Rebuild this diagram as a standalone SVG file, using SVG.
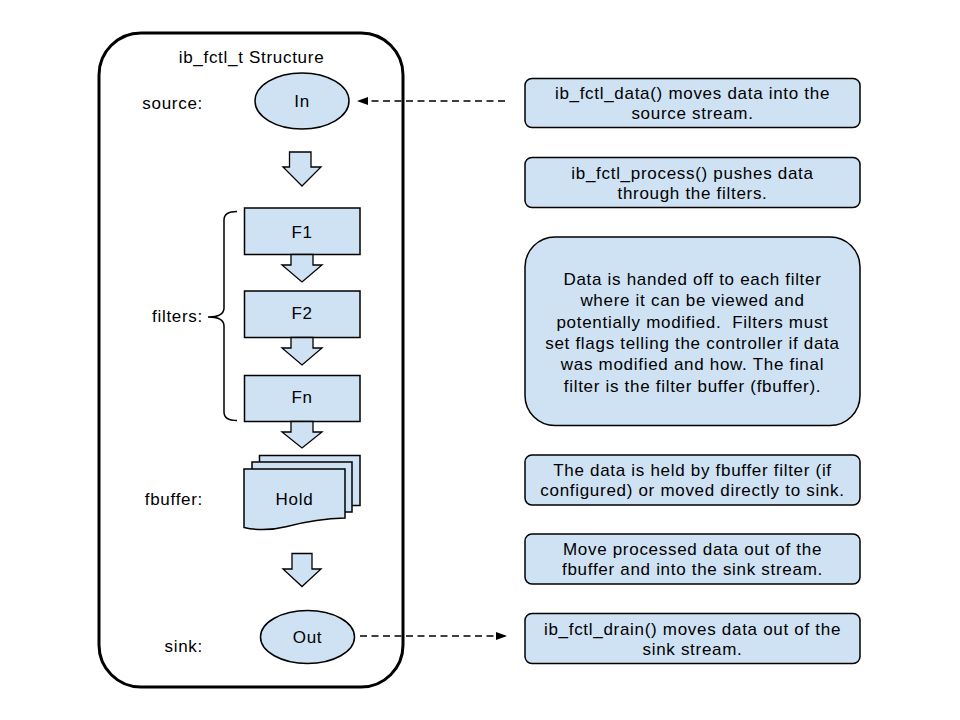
<svg xmlns="http://www.w3.org/2000/svg" width="960" height="720" viewBox="0 0 960 720">
<defs>
<style>
text{font-family:"Liberation Sans",Arial,sans-serif;font-size:17px;letter-spacing:0.7px;fill:#000;}
.c{text-anchor:middle;}
.r{text-anchor:end;}
.shape{fill:#cfe2f3;stroke:#000;stroke-width:1.5;}
.barrow{fill:#cfe2f3;stroke:#000;stroke-width:1.3;stroke-linejoin:miter;}
.dash{fill:none;stroke:#000;stroke-width:1.5;stroke-dasharray:7,4.5;}
</style>
<marker id="ah" markerWidth="12" markerHeight="10" refX="11" refY="4.5" orient="auto" markerUnits="userSpaceOnUse">
<path d="M0,0.5 L11,4.5 L0,8.5 Z" fill="#000"/>
</marker>
</defs>
<rect width="960" height="720" fill="#fff"/>

<g id="container">
<rect x="99" y="33" width="304" height="654" rx="42" ry="42" fill="none" stroke="#000" stroke-width="3"/>
<text class="c" x="251.5" y="63">ib_fctl_t Structure</text>
</g>

<g id="labels">
<text class="r" x="203" y="109">source:</text>
<text class="r" x="203" y="322">filters:</text>
<text class="r" x="203" y="505">fbuffer:</text>
<text class="r" x="203" y="652">sink:</text>
<path d="M237,211.5 Q224,211.5 224,220 V308 Q224,317 208,317 Q224,317 224,326 V412 Q224,420.5 237,420.5" fill="none" stroke="#000" stroke-width="1.5"/>
</g>

<g id="in">
<ellipse class="shape" cx="302" cy="101" rx="47" ry="28"/>
<text class="c" x="302" y="107">In</text>
</g>

<g id="arrow1">
<path class="barrow" d="M289.5,152 H311 V167 H321 L302,186 L283,167 H289.5 Z"/>
</g>

<g id="f1">
<rect class="shape" x="244.5" y="208" width="115.5" height="46.5"/>
<text class="c" x="302" y="237.5">F1</text>
</g>
<g id="arrow2">
<path class="barrow" d="M291,254.5 H313 V265 H322 L302,282 L282,265 H291 Z"/>
</g>

<g id="f2">
<rect class="shape" x="244.5" y="291" width="115.5" height="46.5"/>
<text class="c" x="302" y="318.5">F2</text>
</g>
<g id="arrow3">
<path class="barrow" d="M291,337.5 H313 V348 H322 L302,365 L282,348 H291 Z"/>
</g>

<g id="fn">
<rect class="shape" x="244.5" y="375.5" width="115.5" height="46"/>
<text class="c" x="302" y="403">Fn</text>
</g>
<g id="arrow4">
<path class="barrow" d="M291,421.5 H313 V432 H322 L302,448 L282,432 H291 Z"/>
</g>

<g id="hold">
<rect class="shape" x="259.5" y="455.5" width="100.5" height="50"/>
<rect class="shape" x="252" y="462" width="100" height="50"/>
<path class="shape" d="M244,469 H345 V518 C322,518.5 304,522 287,526.5 C271,530.5 257,530.5 244,527.5 Z"/>
<text class="c" x="294.5" y="504.5">Hold</text>
</g>

<g id="arrow5">
<path class="barrow" d="M292,553.5 H312 V569 H321 L302,586.5 L283,569 H292 Z"/>
</g>

<g id="out">
<ellipse class="shape" cx="307.5" cy="637" rx="47" ry="26.5"/>
<text class="c" x="307.5" y="643">Out</text>
</g>

<g id="connectors">
<line class="dash" x1="505" y1="101" x2="357" y2="101" marker-end="url(#ah)"/>
<line class="dash" x1="360" y1="636" x2="507" y2="636" marker-end="url(#ah)"/>
</g>

<g id="note1">
<rect class="shape" x="525" y="78.5" width="335" height="49" rx="7"/>
<text class="c" x="692.5" y="99">ib_fctl_data() moves data into the</text>
<text class="c" x="692.5" y="119">source stream.</text>
</g>
<g id="note2">
<rect class="shape" x="525" y="157.5" width="335" height="50" rx="7"/>
<text class="c" x="692.5" y="178.5">ib_fctl_process() pushes data</text>
<text class="c" x="692.5" y="198.5">through the filters.</text>
</g>
<g id="note3">
<rect class="shape" x="525" y="237" width="335" height="188.5" rx="30"/>
<text class="c" x="692.5" y="285">Data is handed off to each filter</text>
<text class="c" x="692.5" y="306.3">where it can be viewed and</text>
<text class="c" x="692.5" y="327.6" xml:space="preserve">potentially modified.  Filters must</text>
<text class="c" x="692.5" y="348.9">set flags telling the controller if data</text>
<text class="c" x="692.5" y="370.2">was modified and how. The final</text>
<text class="c" x="692.5" y="391.5">filter is the filter buffer (fbuffer).</text>
</g>
<g id="note4">
<rect class="shape" x="525" y="455" width="335" height="50" rx="7"/>
<text class="c" x="692.5" y="475.5">The data is held by fbuffer filter (if</text>
<text class="c" x="692.5" y="495.5">configured) or moved directly to sink.</text>
</g>
<g id="note5">
<rect class="shape" x="525" y="534" width="335" height="50" rx="7"/>
<text class="c" x="692.5" y="555">Move processed data out of the</text>
<text class="c" x="692.5" y="575">fbuffer and into the sink stream.</text>
</g>
<g id="note6">
<rect class="shape" x="525" y="613.5" width="335" height="50" rx="7"/>
<text class="c" x="692.5" y="635">ib_fctl_drain() moves data out of the</text>
<text class="c" x="692.5" y="655">sink stream.</text>
</g>
</svg>
